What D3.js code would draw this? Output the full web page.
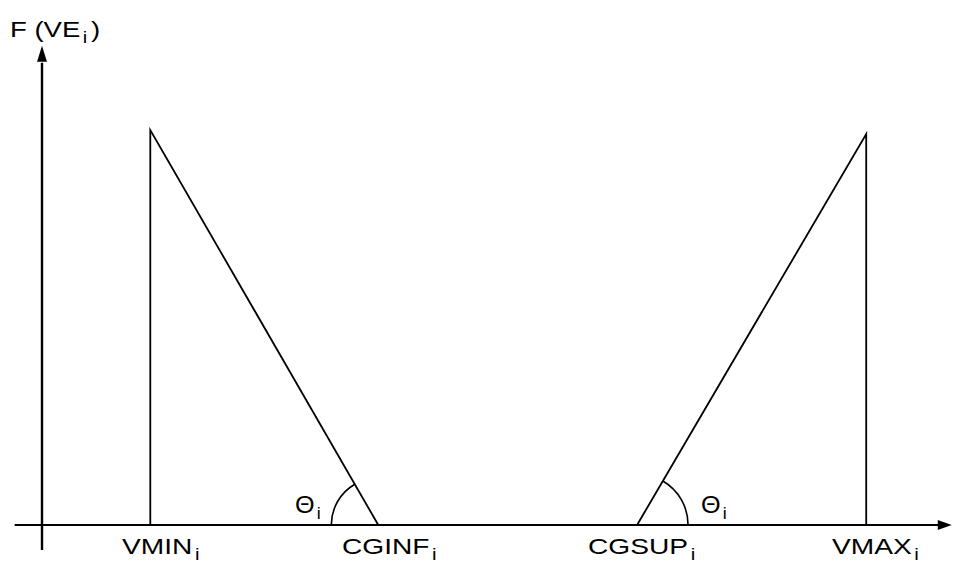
<!DOCTYPE html>
<html>
<head>
<meta charset="utf-8">
<script src="https://cdn.jsdelivr.net/npm/d3@7"></script>
<style>
  body { margin: 0; background: #fff; }
  text { font-family: "Liberation Sans", Arial, sans-serif; fill: #000; }
</style>
</head>
<body>
<div id="vis"></div>
<script>
// abscissa labels and their positions (x units), with F value at each
const labels = ["VMIN", "CGINF", "CGSUP", "VMAX"];
const labelX = [0.95, 2.95, 5.22, 7.23];
const peakLeft = [{x: 0.95, y: 1.0}, {x: 2.95, y: 0}];
const peakRight = [{x: 5.22, y: 0}, {x: 7.23, y: 0.99}];
const axisTitle = "F (VE";
const angleLabel = "Θ";

const width = 954, height = 564;

const svg = d3.select('#vis').append('svg')
  .attr('width', width)
  .attr('height', height);

// define scales
const xScale = d3.scaleLinear().domain([0, 8]).range([42, 954]);
const yScale = d3.scaleLinear().domain([0, 1]).range([525, 130]);

// axes
svg.append('line')
  .attr('x1', xScale(-0.24)).attr('x2', xScale(7.88))
  .attr('y1', yScale(0)).attr('y2', yScale(0))
  .attr('stroke', '#000').attr('stroke-width', 2.2);

svg.append('line')
  .attr('x1', xScale(0)).attr('x2', xScale(0))
  .attr('y1', yScale(-0.063)).attr('y2', yScale(1.17))
  .attr('stroke', '#000').attr('stroke-width', 2.4);

// arrow heads
const xEnd = xScale(7.98), y0 = yScale(0);
svg.append('path')
  .attr('d', `M${xEnd},${y0} L${xEnd - 14},${y0 - 5} L${xEnd - 14},${y0 + 5} Z`)
  .attr('fill', '#000');

const yEnd = yScale(1.213), x0 = xScale(0);
svg.append('path')
  .attr('d', `M${x0},${yEnd} L${x0 - 5},${yEnd + 16} L${x0 + 5},${yEnd + 16} Z`)
  .attr('fill', '#000');

// the two triangles
const line = d3.line().x(d => xScale(d.x)).y(d => yScale(d.y));

[peakLeft, peakRight].forEach(pts => {
  const top = pts[0].y > pts[1].y ? pts[0] : pts[1];
  const foot = pts[0] === top ? pts[1] : pts[0];
  svg.append('path')
    .attr('d', line([{x: top.x, y: 0}, top, foot]))
    .attr('fill', 'none')
    .attr('stroke', '#000')
    .attr('stroke-width', 1.8);
});

// angle arcs at the feet
function angleArc(foot, top, r, left) {
  const fx = xScale(foot.x), fy = yScale(0);
  const dx = xScale(top.x) - fx, dy = yScale(top.y) - fy;
  const len = Math.hypot(dx, dy);
  const ex = fx + dx / len * r, ey = fy + dy / len * r;
  const sx = fx + (left ? -r : r);
  svg.append('path')
    .attr('d', `M${sx},${fy} A${r},${r} 0 0 ${left ? 1 : 0} ${ex},${ey}`)
    .attr('fill', 'none')
    .attr('stroke', '#000')
    .attr('stroke-width', 1.6);
}
angleArc(peakLeft[1], peakLeft[0], 47, true);
angleArc(peakRight[0], peakRight[1], 51, false);

// label helper: main text plus subscript i
function label(x, y, main, size, sub, sx) {
  const t = svg.append('g')
    .attr('transform', `translate(${x},${y}) scale(${sx},1)`)
    .append('text')
    .style('font-size', size + 'px');
  t.append('tspan').text(main);
  t.append('tspan').attr('dx', 2).attr('dy', 6).style('font-size', sub + 'px').text('i');
  return t;
}

const startX = [122, 342, 588, 832];
labels.forEach((d, i) => {
  label(startX[i], 554, d, 22, 16, 1.28);
});

// title
const title = label(10, 37, axisTitle, 22, 16, 1.25);
title.append('tspan').attr('dx', 3).attr('dy', -6).text(')');

// theta labels
label(295, 513, angleLabel, 24, 17, 1.05);
label(701, 513, angleLabel, 24, 17, 1.05);
</script>
</body>
</html>
